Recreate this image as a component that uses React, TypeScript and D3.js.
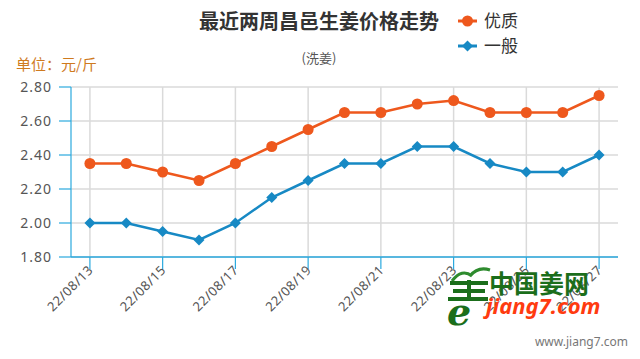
import React from 'react';
import * as d3 from 'd3';

// chart data
const dates = [
  '22/08/13', '22/08/14', '22/08/15', '22/08/16', '22/08/17',
  '22/08/18', '22/08/19', '22/08/20', '22/08/21', '22/08/22',
  '22/08/23', '22/08/24', '22/08/25', '22/08/26', '22/08/27',
];
const premium = [2.35, 2.35, 2.3, 2.25, 2.35, 2.45, 2.55, 2.65, 2.65, 2.7, 2.72, 2.65, 2.65, 2.65, 2.75];
const ordinary = [2.0, 2.0, 1.95, 1.9, 2.0, 2.15, 2.25, 2.35, 2.35, 2.45, 2.45, 2.35, 2.3, 2.3, 2.4];
const yTicks = [1.8, 2.0, 2.2, 2.4, 2.6, 2.8];
const seriesNames = ['优质', '一般'];

const W = 640;
const H = 359;
const left = 71;
const right = 618;
const top = 87;
const bottom = 257;

const ORANGE = '#ee581d';
const BLUE = '#1789c4';
const AXIS = '#2aa9de';
const CJK = '"Noto Sans CJK SC", "Noto Sans", sans-serif';
const NUM = '"Noto Sans", "DejaVu Sans", sans-serif';

const App = () => {
  const x = d3.scalePoint<string>().domain(dates).range([left, right]).padding(0.52);
  const y = d3.scaleLinear().domain([1.8, 2.8]).range([bottom, top]);

  const line = d3
    .line<number>()
    .x((_, i) => x(dates[i]) as number)
    .y((v) => y(v));

  const labeled = dates.filter((_, i) => i % 2 === 0);

  const diamond = (cx: number, cy: number, r: number) =>
    `M${cx},${cy - r}L${cx + r},${cy}L${cx},${cy + r}L${cx - r},${cy}Z`;

  return (
    <svg width={W} height={H} style={{ position: 'absolute', left: 0, top: 0, background: '#fff' }}>
      {/* grid */}
      {yTicks.map((t) => (
        <line key={'gy' + t} x1={left} x2={right} y1={y(t)} y2={y(t)} stroke="#dadada" strokeWidth={1.5} />
      ))}
      {labeled.map((d) => (
        <line key={'gx' + d} x1={x(d)} x2={x(d)} y1={top} y2={bottom} stroke="#dadada" strokeWidth={1.5} />
      ))}

      {/* axes */}
      <line x1={left} x2={left} y1={top} y2={bottom} stroke={AXIS} strokeWidth={1.2} />
      <line x1={left} x2={right} y1={bottom} y2={bottom} stroke={AXIS} strokeWidth={1.5} />
      {yTicks.map((t) => (
        <g key={'ty' + t}>
          <line x1={left - 12} x2={left} y1={y(t)} y2={y(t)} stroke={AXIS} strokeWidth={1.2} />
          <text x={52} y={y(t)} dy="0.35em" textAnchor="end" fontSize={14} fill="#555" fontFamily={NUM} letterSpacing={1}>
            {t.toFixed(2)}
          </text>
        </g>
      ))}
      {labeled.map((d) => (
        <g key={'tx' + d}>
          <line x1={x(d)} x2={x(d)} y1={bottom} y2={bottom + 12} stroke={AXIS} strokeWidth={1.2} />
          <text
            transform={`translate(${(x(d) as number) + 4},${bottom + 14}) rotate(-45)`}
            textAnchor="end"
            fontSize={13}
            fill="#555"
            fontFamily={NUM}
            letterSpacing={0.5}
          >
            {d}
          </text>
        </g>
      ))}

      {/* series */}
      <path d={line(premium) as string} fill="none" stroke={ORANGE} strokeWidth={2.5} />
      {premium.map((v, i) => (
        <circle key={'p' + i} cx={x(dates[i])} cy={y(v)} r={5.5} fill={ORANGE} />
      ))}
      <path d={line(ordinary) as string} fill="none" stroke={BLUE} strokeWidth={2.5} />
      {ordinary.map((v, i) => (
        <path key={'o' + i} d={diamond(x(dates[i]) as number, y(v), 5.5)} fill={BLUE} />
      ))}

      {/* titles */}
      <text x={319} y={29} textAnchor="middle" fontSize={20} fontWeight="bold" fill="#333" fontFamily={CJK}>
        最近两周昌邑生姜价格走势
      </text>
      <text x={319} y={63} textAnchor="middle" fontSize={13} fill="#555" fontFamily={CJK}>
        (洗姜)
      </text>
      <text x={16} y={70} fontSize={15} fill="#cf7a1e" fontFamily={CJK}>
        单位：元/斤
      </text>

      {/* legend */}
      <line x1={458} x2={477} y1={21} y2={21} stroke={ORANGE} strokeWidth={3} />
      <circle cx={467.5} cy={21} r={5.5} fill={ORANGE} />
      <text x={484} y={27} fontSize={17} fill="#333" fontFamily={CJK}>{seriesNames[0]}</text>
      <line x1={458} x2={477} y1={46} y2={46} stroke={BLUE} strokeWidth={3} />
      <path d={diamond(467.5, 46, 5.5)} fill={BLUE} />
      <text x={484} y={52} fontSize={17} fill="#333" fontFamily={CJK}>{seriesNames[1]}</text>

      {/* watermark */}
      <g>
        <path d="M452,281 Q462,268 472,276 M470,276 Q478,266 490,270" fill="none" stroke="#2e8b2e" strokeWidth={3} />
        <rect x={450} y={281} width={38} height={4} fill="#1b6e1b" />
        <rect x={453} y={289} width={32} height={4} fill="#1b6e1b" />
        <rect x={448} y={297} width={40} height={4} fill="#1b6e1b" />
        <rect x={467} y={280} width={4} height={20} fill="#1b6e1b" />
        <text x={447} y={325} fontSize={38} fontStyle="italic" fontWeight="bold" fill="#1b6e1b" fontFamily="DejaVu Serif, serif">e</text>
        <text x={489} y={293} fontSize={25} fontWeight="bold" fill="#1b6e1b" fontFamily={CJK}>中国姜网</text>
        <text x={486} y={314} fontSize={22} fontWeight="bold" fontStyle="italic" fill="#ff3b0f" fontFamily={NUM}>jiang7.com</text>
      </g>
      <text x={628} y={346} textAnchor="end" fontSize={12} fill="#777" fontFamily={NUM}>www.jiang7.com</text>
    </svg>
  );
};

export default App;
